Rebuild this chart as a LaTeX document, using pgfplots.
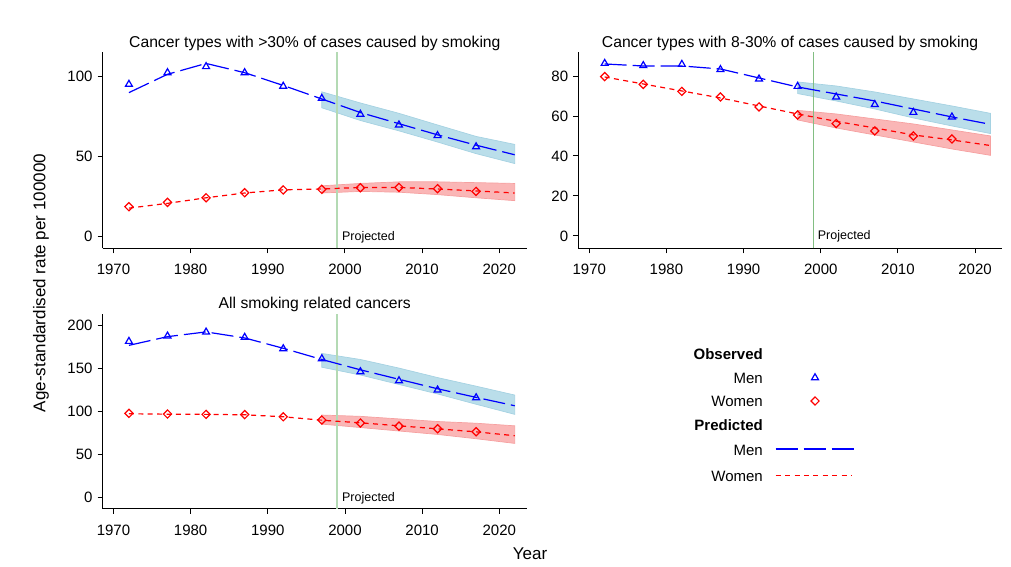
\documentclass[border=0pt]{standalone}
\usepackage{pgfplots}
\pgfplotsset{compat=1.18}
\usepackage{fontspec}
\setmainfont{Liberation Sans}
\definecolor{bandblue}{RGB}{186,222,234}
\definecolor{bandblueedge}{RGB}{165,210,226}
\definecolor{bandred}{RGB}{250,182,182}
\definecolor{bandrededge}{RGB}{246,160,160}
\definecolor{projgreen}{RGB}{180,218,180}
\definecolor{projgreenb}{RGB}{130,190,130}
\pgfplotsset{
  panel/.style={
    scale only axis,
    axis lines=left,
    axis line style={-, line width=0.9pt},
    tick align=outside,
    major tick length=5pt,
    tick style={line width=0.9pt, black},
    xtick={1970,1980,...,2020},
    /pgf/number format/assume math mode=true,
    x tick label style={/pgf/number format/1000 sep={}},
    tick label style={font=\fontsize{15}{15}\selectfont, inner sep=0pt},
    xticklabel style={yshift=-11pt},
    yticklabel style={xshift=-5pt},
    title style={font=\fontsize{15.7}{16}\selectfont, at={(0.5,1)}, anchor=base, yshift=-1pt, inner sep=0pt},
    clip=false,
    anchor=south west,
  },
  bandB/.style={fill=bandblue, draw=bandblueedge, line width=0.7pt, forget plot},
  bandR/.style={fill=bandred, draw=bandrededge, line width=0.7pt, forget plot},
  menobs/.style={blue, only marks, mark=triangle, mark size=4pt, line width=1.2pt},
  womobs/.style={red, only marks, mark=square, mark size=2.9pt, mark options={rotate=45}, line width=1.2pt},
  menpred/.style={blue, line width=1.2pt, dash pattern=on 22pt off 6pt, no marks},
  wompred/.style={red, draw=red, line width=1.2pt, dash pattern=on 5pt off 4.4pt, no marks},
}
\newcommand{\projtext}{\fontsize{12.5}{13}\selectfont Projected}
\begin{document}
\begin{tikzpicture}
\path[use as bounding box] (0pt,0pt) rectangle (1011pt,567pt);

% Panel 1
\begin{axis}[panel, at={(102.7pt,318.7pt)}, width=424.3pt, height=196pt,
  xmin=1968.6, xmax=2023.6, ymin=-7.7, ymax=115.3, ytick={0,50,100},
  title={Cancer types with >30\% of cases caused by smoking}]
\addplot[bandB] coordinates {(1997,90.5)(2002,83.5)(2007,77)(2012,69.7)(2017,62.5)(2022,57.5)(2022,45.5)(2017,51.7)(2012,59)(2007,66)(2002,72.5)(1997,80.5)} -- cycle;
\addplot[bandR] coordinates {(1997,31.5)(2002,33)(2007,34)(2012,34)(2017,33.5)(2022,33)(2022,22.2)(2017,24)(2012,26)(2007,27.5)(2002,28)(1997,27)} -- cycle;
\addplot[projgreen, line width=2pt, forget plot] coordinates {(1999,-7.7)(1999,115.3)};
\node[anchor=base west, inner sep=0pt] at (axis cs:1999.6,-2.5) {\projtext};
\addplot[menpred, forget plot] coordinates {(1972,90)(1977,101.5)(1982,108.3)(1987,102.5)(1992,94.5)(1997,86)(2002,77.5)(2007,70.5)(2012,63.5)(2017,57)(2022,51)};
\addplot[wompred, forget plot] coordinates {(1972,17.5)(1977,20.5)(1982,24)(1987,27)(1992,29)(1997,29.5)(2002,30.5)(2007,30.5)(2012,29.5)(2017,28.3)(2022,27)};
\addplot[menobs, forget plot] coordinates {(1972,95.2)(1977,102.5)(1982,106.3)(1987,102.5)(1992,94)(1997,86.4)(2002,76.4)(2007,69.7)(2012,63)(2017,56)};
\addplot[womobs, forget plot] coordinates {(1972,18.4)(1977,21.1)(1982,24)(1987,27.2)(1992,28.9)(1997,29.3)(2002,30.3)(2007,30.5)(2012,29.7)(2017,28)};
\end{axis}

% Panel 2
\begin{axis}[panel, at={(578.3pt,318.7pt)}, width=423.4pt, height=196pt,
  xmin=1968.58, xmax=2023.45, ymin=-6.2, ymax=91.85, ytick={0,20,...,80},
  title={Cancer types with 8-30\% of cases caused by smoking}]
\addplot[bandB] coordinates {(1997,77)(2002,75)(2007,72)(2012,68.5)(2017,65)(2022,61.3)(2022,51.2)(2017,55)(2012,59)(2007,63.5)(2002,67.5)(1997,71.2)} -- cycle;
\addplot[bandR] coordinates {(1997,62.8)(2002,61)(2007,58.5)(2012,56)(2017,53)(2022,50)(2022,40.3)(2017,43.5)(2012,47)(2007,50.5)(2002,54)(1997,58)} -- cycle;
\addplot[projgreenb, line width=1pt, forget plot] coordinates {(1999,-6.2)(1999,91.85)};
\node[anchor=base west, inner sep=0pt] at (axis cs:1999.6,-2) {\projtext};
\addplot[menpred, forget plot] coordinates {(1972,86)(1977,85)(1982,85)(1987,83.5)(1992,79)(1997,74.5)(2002,71)(2007,67.5)(2012,63.5)(2017,59.5)(2022,55.8)};
\addplot[wompred, forget plot] coordinates {(1972,79.5)(1977,76)(1982,72.5)(1987,69)(1992,65)(1997,61)(2002,57.3)(2007,54)(2012,50.5)(2017,48)(2022,45.2)};
\addplot[menobs, forget plot] coordinates {(1972,86.3)(1977,85.2)(1982,85.8)(1987,83.2)(1992,78.5)(1997,74.8)(2002,69.5)(2007,65.7)(2012,61.8)(2017,59.5)};
\addplot[womobs, forget plot] coordinates {(1972,79.7)(1977,75.8)(1982,72.3)(1987,69.5)(1992,64.5)(1997,60.5)(2002,56.2)(2007,52.5)(2012,50)(2017,48.5)};
\end{axis}

% Panel 3
\begin{axis}[panel, at={(102.7pt,58.3pt)}, width=424pt, height=194.7pt,
  xmin=1968.6, xmax=2023.55, ymin=-13.2, ymax=212.8, ytick={0,50,...,200},
  title={All smoking related cancers}]
\addplot[bandB] coordinates {(1997,167)(2002,160)(2007,150)(2012,139)(2017,129)(2022,118.7)(2022,96.3)(2017,108)(2012,120)(2007,131)(2002,142)(1997,151)} -- cycle;
\addplot[bandR] coordinates {(1997,95.5)(2002,94)(2007,91)(2012,88)(2017,86)(2022,83)(2022,62.6)(2017,68)(2012,73)(2007,77)(2002,81)(1997,85)} -- cycle;
\addplot[projgreen, line width=2pt, forget plot] coordinates {(1999,-13.2)(1999,212.8)};
\node[anchor=base west, inner sep=0pt] at (axis cs:1999.6,-5.1) {\projtext};
\addplot[menpred, forget plot] coordinates {(1972,176.4)(1977,186.5)(1982,192)(1987,185)(1992,173)(1997,160)(2002,148)(2007,137)(2012,126)(2017,116)(2022,106.3)};
\addplot[wompred, forget plot] coordinates {(1972,97)(1977,96.5)(1982,96.3)(1987,95.8)(1992,93.5)(1997,89.5)(2002,86.5)(2007,83)(2012,79.5)(2017,76)(2022,71.5)};
\addplot[menobs, forget plot] coordinates {(1972,181)(1977,187.2)(1982,191.8)(1987,185.7)(1992,172.5)(1997,160.9)(2002,145.8)(2007,135.3)(2012,124.5)(2017,115.6)};
\addplot[womobs, forget plot] coordinates {(1972,97.5)(1977,96.7)(1982,96.3)(1987,96)(1992,93.5)(1997,89.7)(2002,86.2)(2007,82.7)(2012,79.6)(2017,76.1)};
\end{axis}

% Legend, drawn in a hidden axis whose units are the picture's pixels (y from the top)
\begin{axis}[scale only axis, hide axis, clip=false, at={(0pt,0pt)}, anchor=south west,
  width=1011pt, height=567pt, xmin=0, xmax=1011, ymin=0, ymax=567, y dir=reverse]
\addplot[wompred] coordinates {(775.7,475.7)(851,475.7)};
\addplot[menpred] coordinates {(775.7,449)(853.7,449)};
\addplot[menobs] coordinates {(815,377.7)};
\addplot[womobs] coordinates {(815,401)};
\begin{scope}[every node/.style={anchor=base east, inner sep=0pt, font=\fontsize{15}{15}\selectfont}]
\node at (axis cs:763,359.3) {\textbf{Observed}};
\node at (axis cs:763,383.3) {Men};
\node at (axis cs:763,406.7) {Women};
\node at (axis cs:763,430.7) {\textbf{Predicted}};
\node at (axis cs:763,455) {Men};
\node at (axis cs:763,481.7) {Women};
\end{scope}
\end{axis}

\node[rotate=90, font=\fontsize{17}{17}\selectfont, inner sep=0pt] at (41pt,284pt) {Age-standardised rate per 100000};
\node[anchor=base, font=\fontsize{17}{17}\selectfont, inner sep=0pt] at (530pt,7pt) {Year};
\end{tikzpicture}
\end{document}
